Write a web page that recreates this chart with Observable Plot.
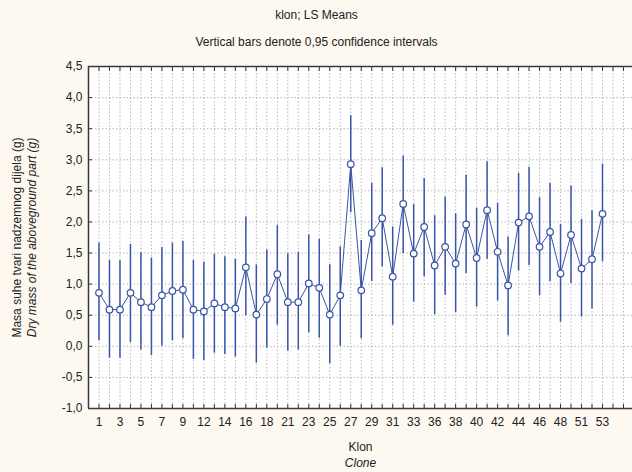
<!DOCTYPE html>
<html>
<head>
<meta charset="utf-8">
<script src="https://cdn.jsdelivr.net/npm/d3@7"></script>
<script src="https://cdn.jsdelivr.net/npm/@observablehq/plot@0.6"></script>
<style>
  html, body { margin: 0; padding: 0; background: #fdf9f0; }
</style>
</head>
<body>
<div id="chart"></div>
<script>
// Clone identifiers (x categories)
const clones = [1,2,3,4,5,6,7,8,9,10,12,13,14,15,16,17,18,19,21,22,23,24,25,26,27,28,29,30,31,32,33,34,36,37,38,39,40,41,42,43,44,45,46,47,48,49,51,52,53];
// LS means
const means = [0.86,0.59,0.59,0.86,0.71,0.63,0.82,0.89,0.91,0.59,0.56,0.69,0.63,0.61,1.27,0.51,0.76,1.16,0.71,0.71,1.01,0.94,0.51,0.82,2.93,0.90,1.82,2.06,1.12,2.29,1.49,1.92,1.30,1.60,1.33,1.96,1.42,2.19,1.52,0.98,1.99,2.09,1.60,1.84,1.17,1.79,1.25,1.40,2.13];
// lower 95% CI
const lower = [0.09,-0.19,-0.19,0.06,-0.06,-0.15,0.00,0.09,0.12,-0.21,-0.23,-0.11,-0.13,-0.17,0.49,-0.27,-0.03,0.34,-0.08,-0.06,0.22,0.13,-0.28,0.00,2.15,0.12,1.04,1.28,0.34,1.49,0.71,1.12,0.51,0.82,0.54,1.17,0.63,1.40,0.73,0.17,1.21,1.30,0.81,1.04,0.39,1.01,0.47,0.60,1.36];
// upper 95% CI
const upper = [1.66,1.38,1.38,1.64,1.51,1.42,1.59,1.66,1.69,1.38,1.35,1.48,1.44,1.40,2.08,1.31,1.55,1.94,1.49,1.51,1.79,1.72,1.31,1.60,3.71,1.70,2.62,2.87,1.92,3.06,2.28,2.70,2.10,2.40,2.13,2.75,2.22,2.97,2.30,1.76,2.78,2.88,2.39,2.62,1.96,2.58,2.04,2.18,2.93];
// y axis ticks
const yTicks = [-1.0,-0.5,0.0,0.5,1.0,1.5,2.0,2.5,3.0,3.5,4.0,4.5];

const title = "klon; LS Means";
const subtitle = "Vertical bars denote 0,95 confidence intervals";
const xTitle1 = "Klon";
const xTitle2 = "Clone";
const yTitle1 = "Masa suhe tvari nadzemnog dijela (g)";
const yTitle2 = "Dry mass of the aboveground part (g)";

const data = clones.map((c, i) => ({i, clone: c, mean: means[i], lo: lower[i], hi: upper[i]}));
const blue = "#3a55a8";
const xDomain = [-1, 50.86];
const yDomain = [-1, 4.5];
const allTicks = d3.range(0, 51);
const labelTicks = d3.range(0, clones.length, 2);
const fmt = v => d3.format(".1f")(v).replace(".", ",").replace("−", "-");
const gridStyle = {stroke: "#b8b8b8", strokeOpacity: 1, strokeDasharray: "1.5,2", strokeWidth: 1};
const txt = {fontSize: 12, fill: "#222", lineAnchor: "middle", textAnchor: "middle"};

const chart = Plot.plot({
  width: 632,
  height: 472,
  marginLeft: 88,
  marginRight: 0,
  marginTop: 66,
  marginBottom: 64,
  style: {fontFamily: "'Liberation Sans', Arial, sans-serif", fontSize: "12px", background: "#fdf9f0", color: "#222"},
  x: {type: "linear", domain: xDomain, axis: null},
  y: {domain: yDomain, axis: null},
  marks: [
    Plot.frame({fill: "white", stroke: null}),
    Plot.gridX({ticks: allTicks, ...gridStyle}),
    Plot.gridY({ticks: yTicks, ...gridStyle}),
    // inward tick marks
    Plot.axisX({anchor: "bottom", ticks: allTicks, tickSize: 4, dy: -4, tickFormat: () => "", label: null, stroke: "#333"}),
    Plot.axisX({anchor: "top", ticks: allTicks, tickSize: 4, dy: 4, tickFormat: () => "", label: null, stroke: "#333"}),
    Plot.axisY({anchor: "left", ticks: yTicks, tickSize: 4, dx: 4, tickFormat: () => "", label: null, stroke: "#333"}),
    // labels
    Plot.axisX({anchor: "bottom", ticks: labelTicks, tickSize: 0, tickPadding: 9, tickFormat: i => String(clones[i]), label: null, fill: "#222"}),
    Plot.axisY({anchor: "left", ticks: yTicks, tickSize: 0, tickPadding: 6, tickFormat: fmt, label: null, fill: "#222"}),
    // frame edges (right side is cut off)
    Plot.ruleY(yDomain, {stroke: "#3a3a3a", strokeWidth: 1.5}),
    Plot.ruleX([xDomain[0]], {stroke: "#3a3a3a", strokeWidth: 1.5}),
    // data
    Plot.ruleX(data, {x: "i", y1: "lo", y2: "hi", stroke: blue, strokeWidth: 1.5}),
    Plot.line(data, {x: "i", y: "mean", stroke: blue, strokeWidth: 1}),
    Plot.dot(data, {x: "i", y: "mean", r: 3.3, fill: "white", stroke: blue, strokeWidth: 1.2}),
    // titles
    Plot.text([title], {frameAnchor: "top", dx: -44, dy: -51, ...txt}),
    Plot.text([subtitle], {frameAnchor: "top", dx: -44, dy: -24, ...txt}),
    Plot.text([xTitle1], {frameAnchor: "bottom", dy: 39, ...txt}),
    Plot.text([xTitle2], {frameAnchor: "bottom", dy: 55, fontStyle: "italic", ...txt}),
    Plot.text([yTitle1], {frameAnchor: "left", rotate: -90, dx: -71, ...txt}),
    Plot.text([yTitle2], {frameAnchor: "left", rotate: -90, dx: -56, fontStyle: "italic", ...txt})
  ]
});
document.getElementById("chart").appendChild(chart);
</script>
</body>
</html>
